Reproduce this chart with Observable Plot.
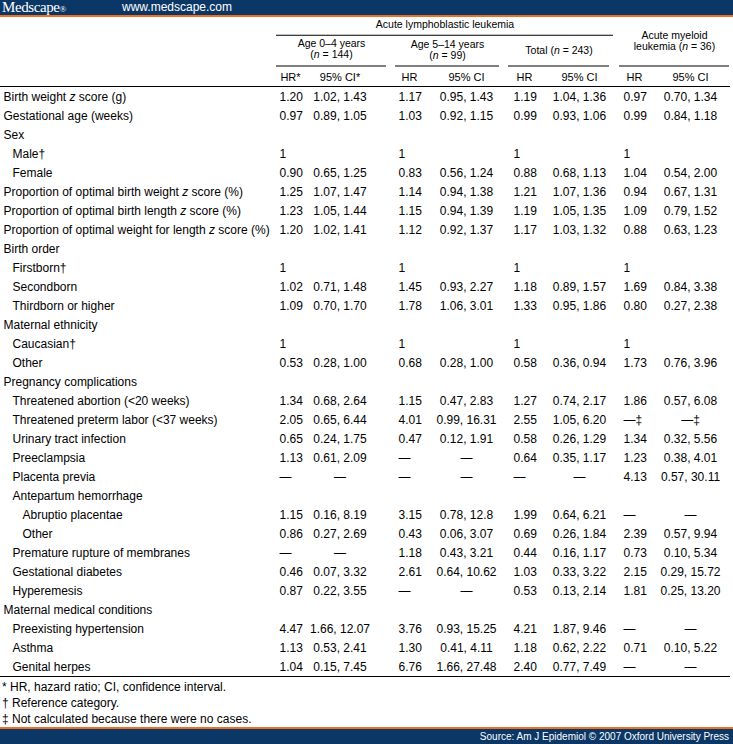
<!DOCTYPE html>
<html><head><meta charset="utf-8">
<script src="https://cdn.jsdelivr.net/npm/d3@7"></script>
<script src="https://cdn.jsdelivr.net/npm/@observablehq/plot@0.6"></script>
<style>
html,body{margin:0;padding:0;background:#fff}
#page{width:733px;height:744px;overflow:hidden;font-family:"Liberation Sans",Arial,Helvetica,sans-serif;color:#000}
.topbar{height:15px;background:#0b3766;border-bottom:2px solid #f07022;color:#fff;position:relative;white-space:nowrap}
.logo{position:absolute;left:2px;top:-1px;font-family:"Liberation Serif","Times New Roman",serif;font-size:15px;line-height:16px;letter-spacing:-0.4px}
.logo small{font-size:9px;letter-spacing:0}
.url{position:absolute;left:122px;top:0;font-size:12px;line-height:15px}
.notes{height:49px;padding-left:2px;padding-top:1px;font-size:12px;line-height:16px;box-sizing:border-box}
.botbar{height:15px;background:#0b3766;border-top:2px solid #f07022;color:#fff;font-size:10px;line-height:15px;text-align:right;padding-right:4px}
#head svg,#body svg{display:block}
</style></head><body><div id="page">
<div class="topbar"><span class="logo">Medscape<small>®</small></span><span class="url">www.medscape.com</span></div>
<div id="head"></div>
<div id="body"></div>
<div class="notes" id="notes"></div>
<div class="botbar" id="source"></div>
</div>
<script>
// ---------- data ----------
const spanTitle = "Acute lymphoblastic leukemia";
const groupHeads = ["Age 0–4 years\n(n = 144)", "Age 5–14 years\n(n = 99)", "Total (n = 243)", "Acute myeloid\nleukemia (n = 36)"];
const colHeads = ["HR*", "95% CI*", "HR", "95% CI", "HR", "95% CI", "HR", "95% CI"];

const labels = ["Birth weight z score (g)","Gestational age (weeks)","Sex","Male†","Female",
"Proportion of optimal birth weight z score (%)","Proportion of optimal birth length z score (%)",
"Proportion of optimal weight for length z score (%)","Birth order","Firstborn†","Secondborn",
"Thirdborn or higher","Maternal ethnicity","Caucasian†","Other","Pregnancy complications",
"Threatened abortion (<20 weeks)","Threatened preterm labor (<37 weeks)","Urinary tract infection",
"Preeclampsia","Placenta previa","Antepartum hemorrhage","Abruptio placentae","Other",
"Premature rupture of membranes","Gestational diabetes","Hyperemesis","Maternal medical conditions",
"Preexisting hypertension","Asthma","Genital herpes"];
const levels = [0,0,0,1,1,0,0,0,0,1,1,1,0,1,1,0,1,1,1,1,1,1,2,2,1,1,1,0,1,1,1];

const hr04 = ["1.20","0.97","","1","0.90","1.25","1.23","1.20","","1","1.02","1.09","","1","0.53","","1.34","2.05","0.65","1.13","—","","1.15","0.86","—","0.46","0.87","","4.47","1.13","1.04"];
const ci04 = ["1.02, 1.43","0.89, 1.05","","","0.65, 1.25","1.07, 1.47","1.05, 1.44","1.02, 1.41","","","0.71, 1.48","0.70, 1.70","","","0.28, 1.00","","0.68, 2.64","0.65, 6.44","0.24, 1.75","0.61, 2.09","—","","0.16, 8.19","0.27, 2.69","—","0.07, 3.32","0.22, 3.55","","1.66, 12.07","0.53, 2.41","0.15, 7.45"];
const hr514 = ["1.17","1.03","","1","0.83","1.14","1.15","1.12","","1","1.45","1.78","","1","0.68","","1.15","4.01","0.47","—","—","","3.15","0.43","1.18","2.61","—","","3.76","1.30","6.76"];
const ci514 = ["0.95, 1.43","0.92, 1.15","","","0.56, 1.24","0.94, 1.38","0.94, 1.39","0.92, 1.37","","","0.93, 2.27","1.06, 3.01","","","0.28, 1.00","","0.47, 2.83","0.99, 16.31","0.12, 1.91","—","—","","0.78, 12.8","0.06, 3.07","0.43, 3.21","0.64, 10.62","—","","0.93, 15.25","0.41, 4.11","1.66, 27.48"];
const hrTot = ["1.19","0.99","","1","0.88","1.21","1.19","1.17","","1","1.18","1.33","","1","0.58","","1.27","2.55","0.58","0.64","—","","1.99","0.69","0.44","1.03","0.53","","4.21","1.18","2.40"];
const ciTot = ["1.04, 1.36","0.93, 1.06","","","0.68, 1.13","1.07, 1.36","1.05, 1.35","1.03, 1.32","","","0.89, 1.57","0.95, 1.86","","","0.36, 0.94","","0.74, 2.17","1.05, 6.20","0.26, 1.29","0.35, 1.17","—","","0.64, 6.21","0.26, 1.84","0.16, 1.17","0.33, 3.22","0.13, 2.14","","1.87, 9.46","0.62, 2.22","0.77, 7.49"];
const hrAml = ["0.97","0.99","","1","1.04","0.94","1.09","0.88","","1","1.69","0.80","","1","1.73","","1.86","—‡","1.34","1.23","4.13","","—","2.39","0.73","2.15","1.81","","—","0.71","—"];
const ciAml = ["0.70, 1.34","0.84, 1.18","","","0.54, 2.00","0.67, 1.31","0.79, 1.52","0.63, 1.23","","","0.84, 3.38","0.27, 2.38","","","0.76, 3.96","","0.57, 6.08","—‡","0.32, 5.56","0.38, 4.01","0.57, 30.11","","—","0.57, 9.94","0.10, 5.34","0.29, 15.72","0.25, 13.20","","—","0.10, 5.22","—"];

const footnotes = ["* HR, hazard ratio; CI, confidence interval.", "† Reference category.", "‡ Not calculated because there were no cases."];
const source = "Source: Am J Epidemiol © 2007 Oxford University Press";

// ---------- layout (not data) ----------
const FONT = '"Liberation Sans", Arial, Helvetica, sans-serif';
const indent = [3, 12, 22];
const colLayout = [
  {hr: 279, ci: 339.5, x1: 276, x2: 386, cx: 331},
  {hr: 398, ci: 466, x1: 395, x2: 499, cx: 447},
  {hr: 513, ci: 579, x1: 508, x2: 609, cx: 558.5},
  {hr: 623, ci: 690, x1: 619, x2: 729, cx: 674}
];
const spanLayout = {x1: 276, x2: 613, cx: 444.5};
const headLines = {title: 0, titleRule: 1, groups: [2.35, 2.45, 2.45, 1.55], groupRule: 4, cols: 5.15};

// ---------- build ----------
const hrSeries = [hr04, hr514, hrTot, hrAml];
const ciSeries = [ci04, ci514, ciTot, ciAml];

const labelCells = labels.map((label, row) => ({row, label, level: levels[row]}));
const hrCells = [], ciCells = [];
hrSeries.forEach((s, g) => s.forEach((text, row) => { if (text) hrCells.push({row, text, x: colLayout[g].hr}); }));
ciSeries.forEach((s, g) => s.forEach((text, row) => { if (text) ciCells.push({row, text, x: colLayout[g].ci}); }));

const groupCells = groupHeads.map((label, g) => ({label, line: headLines.groups[g], ...colLayout[g]}));
const colHeadCells = colHeads.map((label, k) => {
  const c = colLayout[Math.floor(k / 2)];
  return {label, x: k % 2 ? c.ci : c.hr + 11};
});

const head = Plot.plot({
  width: 733, height: 63, margin: 0,
  x: {domain: [0, 733], range: [0, 733], axis: null},
  y: {domain: [0, 6], range: [7.5, 69], axis: null},
  style: {fontFamily: FONT, fontSize: "10.5px", color: "#000", background: "transparent", overflow: "visible"},
  marks: [
    Plot.text([spanTitle], {x: spanLayout.cx, y: headLines.title, text: d => d, fill: "#000"}),
    Plot.ruleY([headLines.titleRule], {x1: spanLayout.x1, x2: spanLayout.x2, stroke: "#000"}),
    Plot.text(groupCells, {x: "cx", y: "line", text: "label", lineHeight: 1.05, fill: "#000"}),
    Plot.ruleY(groupCells, {y: () => headLines.groupRule, x1: "x1", x2: "x2", stroke: "#000"}),
    Plot.text(colHeadCells, {x: "x", y: () => headLines.cols, text: "label", textAnchor: "middle", fontSize: 11, fill: "#000"})
  ]
});

const body = Plot.plot({
  width: 733, height: 598, marginTop: 6, marginBottom: 2, marginLeft: 0, marginRight: 4,
  x: {domain: [0, 733], range: [0, 733], axis: null},
  y: {type: "band", domain: d3.range(labels.length), padding: 0, axis: null},
  style: {fontFamily: FONT, fontSize: "12px", color: "#000", background: "transparent", overflow: "visible"},
  marks: [
    Plot.frame({anchor: "top", stroke: "#000"}),
    Plot.frame({anchor: "bottom", stroke: "#000"}),
    Plot.text(labelCells, {x: d => indent[d.level], y: "row", text: "label", textAnchor: "start", fill: "#000"}),
    Plot.text(hrCells, {x: "x", y: "row", text: "text", textAnchor: "start", fill: "#000"}),
    Plot.text(ciCells, {x: "x", y: "row", text: "text", textAnchor: "middle", fill: "#000"})
  ]
});

// italic z and n
function italicize(svg) {
  const re = /(\bz(?= score)|\bn(?= = ))/;
  const ns = "http://www.w3.org/2000/svg";
  svg.querySelectorAll("text, tspan").forEach(el => {
    if (el.children.length) return;
    const s = el.textContent;
    if (!re.test(s)) return;
    const parts = s.split(re);
    el.textContent = "";
    parts.forEach((p, i) => {
      if (!p) return;
      if (i % 2) { const t = document.createElementNS(ns, "tspan"); t.setAttribute("font-style", "italic"); t.textContent = p; el.appendChild(t); }
      else el.appendChild(document.createTextNode(p));
    });
  });
}
italicize(head); italicize(body);
document.getElementById("head").appendChild(head);
document.getElementById("body").appendChild(body);
const notes = document.getElementById("notes");
footnotes.forEach(f => { const d = document.createElement("div"); d.textContent = f; notes.appendChild(d); });
document.getElementById("source").textContent = source;
</script>
</body></html>
